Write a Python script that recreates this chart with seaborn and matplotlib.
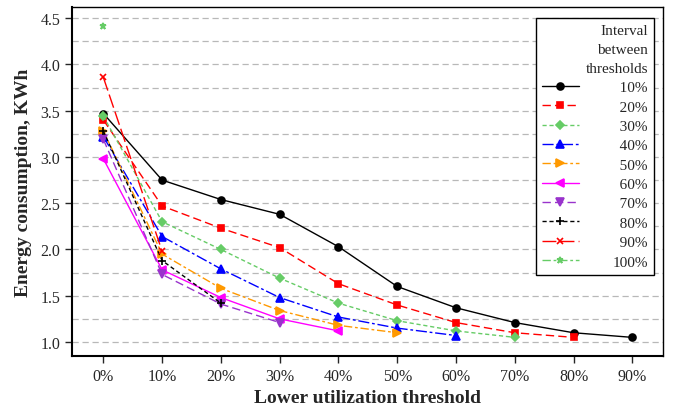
import matplotlib
matplotlib.use('Agg')
import matplotlib.pyplot as plt
import seaborn as sns
import pandas as pd
from matplotlib.ticker import MultipleLocator, FormatStrFormatter

# Data
thresholds = ['0%', '10%', '20%', '30%', '40%', '50%', '60%', '70%', '80%', '90%']
intervals = ['10%', '20%', '30%', '40%', '50%', '60%', '70%', '80%', '90%', '100%']

e10 = [3.47, 2.75, 2.54, 2.38, 2.03, 1.60, 1.37, 1.21, 1.10, 1.05]
e20 = [3.40, 2.47, 2.23, 2.02, 1.63, 1.40, 1.21, 1.10, 1.05]
e30 = [3.44, 2.30, 2.00, 1.69, 1.42, 1.23, 1.12, 1.05]
e40 = [3.22, 2.14, 1.79, 1.48, 1.27, 1.15, 1.07]
e50 = [3.28, 1.95, 1.58, 1.34, 1.18, 1.10]
e60 = [2.98, 1.78, 1.48, 1.25, 1.12]
e70 = [3.19, 1.73, 1.41, 1.21]
e80 = [3.28, 1.88, 1.42]
e90 = [3.86, 1.98]
e100 = [4.42]
energy = [e10, e20, e30, e40, e50, e60, e70, e80, e90, e100]

# Style of each series
colors = ['black', '#ff0000', '#66cc66', '#0000ff', '#ff9900',
          '#ff00ff', '#9933cc', 'black', '#ff0000', '#66cc66']
markers = ['o', 's', 'D', '^', '>', '<', 'v', '+', 'x', '*']
dashes = ['-', (0, (6, 3)), (0, (3, 2)), (0, (8, 2, 2, 2)), (0, (6, 2, 2, 2)),
          '-', (0, (6, 3)), (0, (3, 2)), (0, (10, 3)), (0, (6, 2, 2, 2))]
msizes = [5, 5, 4, 6, 6, 6, 6, 6, 5, 5]

sns.set_style('ticks')
plt.rcParams['font.family'] = ['Liberation Serif', 'DejaVu Serif']

fig, ax = plt.subplots(figsize=(6.75, 4.06), dpi=100)
fig.subplots_adjust(left=0.107, right=0.982, bottom=0.121, top=0.980)

for name, vals, c, m, ls, ms in zip(intervals, energy, colors, markers, dashes, msizes):
    df = pd.DataFrame({'x': range(len(vals)), 'y': vals})
    # pad short labels with a figure space so they line up on the right
    lab = name if len(name) == 4 else '\u2007' + name
    sns.lineplot(data=df, x='x', y='y', ax=ax, color=c, marker=m, linestyle=ls,
                 linewidth=1.0, markersize=ms, markeredgecolor=c, markeredgewidth=1.2,
                 label=lab, zorder=3)

ax.set_xlim(-0.53, 9.52)
ax.set_ylim(0.85, 4.62)
ax.set_xticks(range(len(thresholds)))
ax.set_xticklabels(thresholds)
ax.yaxis.set_major_locator(MultipleLocator(0.5))
ax.yaxis.set_minor_locator(MultipleLocator(0.25))
ax.yaxis.set_major_formatter(FormatStrFormatter('%.1f'))
ax.tick_params(axis='y', which='minor', length=0)
ax.tick_params(axis='both', which='major', labelsize=11.5, direction='out', length=5, width=1)
ax.grid(axis='y', which='both', color='#b8b8b8', linestyle=(0, (5, 3)), linewidth=0.9, zorder=0)

for s in ax.spines.values():
    s.set_color('black')
    s.set_linewidth(1.0)
ax.spines['left'].set_linewidth(1.5)
ax.spines['bottom'].set_linewidth(1.5)

ax.set_xlabel('Lower utilization threshold', fontsize=14, fontweight='bold', labelpad=4)
ax.set_ylabel('Energy consumption, KWh', fontsize=14, fontweight='bold', labelpad=6)

leg = ax.legend(title='Interval\nbetween\nthresholds', loc='upper right',
                bbox_to_anchor=(0.985, 0.969), borderaxespad=0, fontsize=11,
                title_fontsize=11, frameon=True, fancybox=False, framealpha=1,
                edgecolor='black', handlelength=2.4, labelspacing=0.37,
                borderpad=0.4, alignment='right', handletextpad=2.2)
leg.get_frame().set_linewidth(1.0)
leg.get_title().set_multialignment('right')
leg.get_title().set_linespacing(1.6)

fig.savefig('out.png', dpi=100)
